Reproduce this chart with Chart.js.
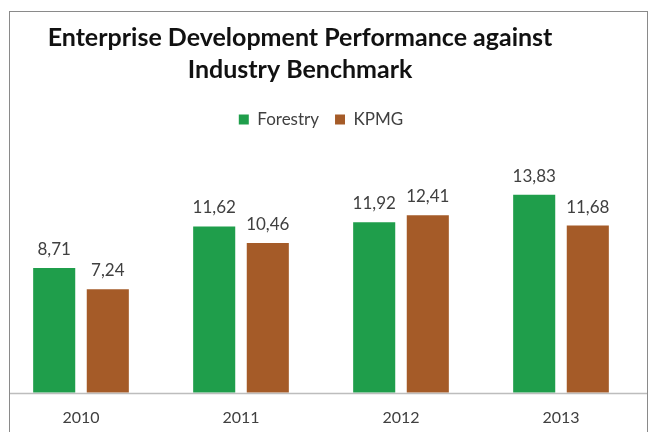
<!DOCTYPE html>
<html>
<head>
<meta charset="utf-8">
<script src="https://cdn.jsdelivr.net/npm/chart.js@4.4.0/dist/chart.umd.min.js"></script>
<style>
  html, body { margin: 0; padding: 0; background: #fff; }
  #wrap { position: relative; width: 650px; height: 432px; overflow: hidden; }
  #frame { position: absolute; left: 9px; top: 11px; width: 639px; height: 440px;
           border: 1.5px solid #8a8a8a; box-sizing: border-box; pointer-events: none; }
</style>
</head>
<body>
<div id="wrap">
  <canvas id="chart" width="650" height="432"></canvas>
  <div id="frame"></div>
</div>
<script>
// chart data
const years = ['2010', '2011', '2012', '2013'];
const forestry = [8.71, 11.62, 11.92, 13.83];
const kpmg = [7.24, 10.46, 12.41, 11.68];
const titleLines = ['Enterprise Development Performance against', 'Industry Benchmark'];

const GREEN = '#1f9e4b';
const BROWN = '#a55b28';
const FONT = 'Lato, "Open Sans", sans-serif';

// two-line title, centred a bit left of the canvas like the original
const titlePlugin = {
  id: 'titleText',
  afterDraw(chart) {
    const ctx = chart.ctx;
    ctx.save();
    ctx.fillStyle = '#111';
    ctx.font = 'bold 25px ' + FONT;
    ctx.textAlign = 'center';
    ctx.textBaseline = 'alphabetic';
    ctx.fillText(titleLines[0], 300, 46);
    ctx.fillText(titleLines[1], 300, 78);
    ctx.restore();
  }
};

// value labels above bars, comma decimal
const valuePlugin = {
  id: 'valueLabels',
  afterDatasetsDraw(chart) {
    const ctx = chart.ctx;
    ctx.save();
    ctx.fillStyle = '#404040';
    ctx.font = '17px ' + FONT;
    ctx.textAlign = 'center';
    ctx.textBaseline = 'alphabetic';
    chart.data.datasets.forEach((ds, i) => {
      chart.getDatasetMeta(i).data.forEach((bar, j) => {
        const txt = ds.data[j].toFixed(2).replace('.', ',');
        ctx.fillText(txt, bar.x, bar.y - 13);
      });
    });
    ctx.restore();
  }
};

// baseline across the whole frame
const baselinePlugin = {
  id: 'baseline',
  afterDatasetsDraw(chart) {
    const ctx = chart.ctx;
    const y = Math.round(chart.scales.y.getPixelForValue(0)) + 0.5;
    ctx.save();
    ctx.strokeStyle = '#bdbdbd';
    ctx.lineWidth = 1.5;
    ctx.beginPath();
    ctx.moveTo(9, y);
    ctx.lineTo(647, y);
    ctx.stroke();
    ctx.restore();
  }
};

new Chart(document.getElementById('chart'), {
  type: 'bar',
  data: {
    labels: years,
    datasets: [
      { label: 'Forestry', data: forestry, backgroundColor: GREEN },
      { label: 'KPMG', data: kpmg, backgroundColor: BROWN }
    ]
  },
  options: {
    responsive: false,
    animation: false,
    layout: { padding: { top: 95, left: 1, right: 9, bottom: -10 } },
    datasets: { bar: { categoryPercentage: 0.67, barPercentage: 0.785 } },
    plugins: {
      title: { display: false },
      tooltip: { enabled: false },
      legend: {
        position: 'top',
        labels: {
          boxWidth: 10, boxHeight: 10, padding: 16,
          color: '#404040',
          font: { family: FONT, size: 17 }
        }
      }
    },
    scales: {
      x: {
        grid: { display: false, drawTicks: false },
        border: { display: false },
        ticks: { color: '#404040', font: { family: FONT, size: 16 }, padding: 15 }
      },
      y: { display: false, min: 0, max: 17.8 }
    }
  },
  plugins: [titlePlugin, valuePlugin, baselinePlugin]
});
</script>
</body>
</html>
